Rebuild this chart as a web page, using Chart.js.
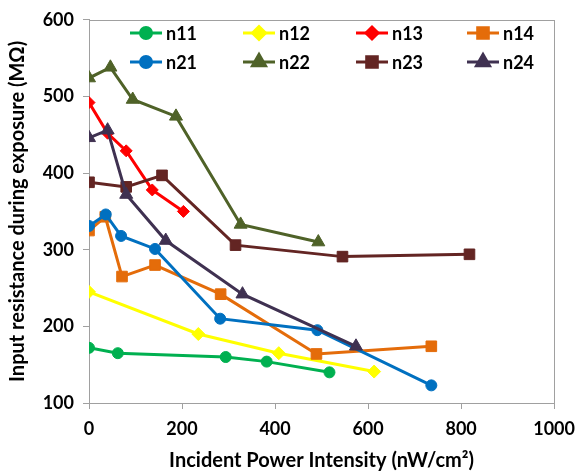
<!DOCTYPE html>
<html>
<head>
<meta charset="utf-8">
<script src="https://cdn.jsdelivr.net/npm/chart.js@4/dist/chart.umd.min.js"></script>
<style>
  html, body { margin: 0; padding: 0; background: #fff; }
  #wrap { width: 584px; height: 475px; position: relative; }
</style>
</head>
<body>
<div id="wrap"><canvas id="c" width="584" height="475"></canvas></div>
<script>
// ---- Data (x = incident power intensity nW/cm², y = input resistance MΩ) ----
const seriesNames = ["n11", "n12", "n13", "n14", "n21", "n22", "n23", "n24"];
const n11 = [[0,172],[62,165],[294,160],[382,154],[517,140]];
const n12 = [[0,245],[235,190],[408,165],[613,141]];
const n13 = [[0,492],[40,452],[80,429],[136,378],[203,350]];
const n14 = [[0,325],[35,343],[71,265],[142,280],[283,242],[489,164],[736,174]];
const n21 = [[0,331],[36,346],[69,318],[142,301],[282,210],[491,195],[736,123]];
const n22 = [[0,524],[46,538],[94,496],[187,474],[326,333],[493,310]];
const n23 = [[0,388],[80,382],[157,397],[315,306],[545,291],[818,294]];
const n24 = [[0,446],[40,456],[80,372],[165,312],[330,242],[574,174]];
const xTicks = [0, 200, 400, 600, 800, 1000];
const yTicks = [100, 200, 300, 400, 500, 600];

const seriesData = [n11, n12, n13, n14, n21, n22, n23, n24];
const colors = ["#00B050", "#FFFF00", "#FF0000", "#E46C0A", "#0070C0", "#4F6228", "#632523", "#3F3151"];
const styles = ["circle", "rectRot", "rectRot", "rect", "circle", "triangle", "rect", "triangle"];
const radii  = [5.5, 6.5, 6, 7.5, 5.5, 7.5, 7.5, 7.5];

const FONT = "Lato, 'Open Sans', 'DejaVu Sans', sans-serif";
const AXIS_GRAY = "#A0A0A0";

const datasets = seriesNames.map((name, i) => ({
  label: name,
  data: seriesData[i].map(p => ({ x: p[0], y: p[1] })),
  borderColor: colors[i],
  backgroundColor: colors[i],
  borderWidth: 3,
  pointStyle: styles[i],
  pointRadius: radii[i],
  pointBorderWidth: 1,
  pointBorderColor: colors[i],
  pointBackgroundColor: colors[i],
  showLine: true,
  tension: 0,
  order: seriesNames.length - i
}));

const frameAndLegend = {
  id: "frameAndLegend",
  beforeDatasetsDraw(chart) {
    const { ctx, chartArea: a } = chart;
    ctx.save();
    ctx.strokeStyle = AXIS_GRAY;
    ctx.lineWidth = 1;
    ctx.strokeRect(Math.round(a.left) + 0.5, Math.round(a.top) + 0.5,
                   Math.round(a.right - a.left), Math.round(a.bottom - a.top));
    ctx.restore();
  },
  afterDraw(chart) {
    const { ctx, chartArea: a } = chart;
    const colOff = [41, 154, 267, 378];
    const rowY = [33, 62];
    chart.data.datasets.forEach((ds, i) => {
      const x = a.left + colOff[i % 4];
      const y = rowY[Math.floor(i / 4)];
      ctx.save();
      ctx.strokeStyle = ds.borderColor;
      ctx.lineWidth = 3;
      ctx.beginPath();
      ctx.moveTo(x, y);
      ctx.lineTo(x + 32, y);
      ctx.stroke();
      ctx.fillStyle = ds.backgroundColor;
      ctx.strokeStyle = ds.borderColor;
      Chart.helpers.drawPoint(ctx, { pointStyle: ds.pointStyle, rotation: 0, radius: ds.pointRadius, borderWidth: 1 }, x + 16, y);
      ctx.fillStyle = "#000";
      ctx.font = "bold 18px " + FONT;
      ctx.textBaseline = "middle";
      ctx.textAlign = "left";
      ctx.fillText(ds.label, x + 36, y + 1);
      ctx.restore();
    });
  }
};

new Chart(document.getElementById("c"), {
  type: "scatter",
  data: { datasets },
  options: {
    responsive: false,
    animation: false,
    layout: { padding: { top: 16, right: 23, left: 0, bottom: 0 } },
    plugins: { legend: { display: false }, tooltip: { enabled: false } },
    scales: {
      x: {
        type: "linear",
        min: xTicks[0], max: xTicks[xTicks.length - 1],
        afterBuildTicks(scale) { scale.ticks = xTicks.map(v => ({ value: v })); },
        afterFit(scale) { scale.height = 72; },
        grid: { drawOnChartArea: false, drawTicks: true, tickLength: 6, color: AXIS_GRAY },
        border: { display: true, color: AXIS_GRAY },
        ticks: { color: "#000", padding: 9, font: { family: FONT, size: 18, weight: "bold" }, maxRotation: 0,
                 callback: v => String(v) },
        title: { display: true, text: "Incident Power Intensity (nW/cm²)", color: "#000",
                 font: { family: FONT, size: 20, weight: "bold" }, padding: { top: 0, bottom: 2 } }
      },
      y: {
        type: "linear",
        min: yTicks[0], max: yTicks[yTicks.length - 1],
        afterBuildTicks(scale) { scale.ticks = yTicks.map(v => ({ value: v })); },
        afterFit(scale) { scale.width = 89; },
        grid: { drawOnChartArea: false, drawTicks: true, tickLength: 6, color: AXIS_GRAY },
        border: { display: true, color: AXIS_GRAY },
        ticks: { color: "#000", padding: 9, font: { family: FONT, size: 18, weight: "bold" },
                 callback: v => String(v) },
        title: { display: true, text: "Input resistance during exposure (MΩ)", color: "#000",
                 font: { family: FONT, size: 20, weight: "bold" }, padding: { top: 6, bottom: 0 } }
      }
    }
  },
  plugins: [frameAndLegend]
});
</script>
</body>
</html>
